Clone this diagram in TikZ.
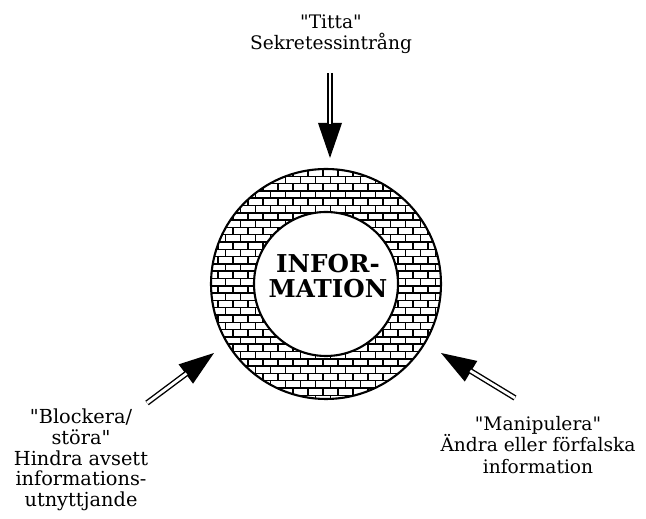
\documentclass[tikz,border=0pt]{standalone}
\usepackage{fontspec}
\setmainfont{DejaVu Serif}
\usetikzlibrary{arrows.meta, positioning}

\newcommand{\qt}{\textquotedbl}

\tikzset{
	wall/.style={line width=1.2pt},
	brick/.style={line width=0.9pt},
	threat/.style={line width=0.8pt, -{Triangle[length=20pt, width=13.5pt]}},
	threatshaft/.style={double, double distance=1.6pt, line width=0.8pt, shorten >=19.5pt},
	lbl/.style={align=center, inner sep=0pt, font=\fontsize{10.6}{12}\selectfont}
}

\begin{document}
\begin{tikzpicture}[x=0.02cm, y=-0.02cm]
	\useasboundingbox (0,0) rectangle (646,519);
	
	% brick wall round the information
	\begin{scope}[even odd rule]
		\clip (326,284) circle (115) (326,284) circle (72);
		\foreach \r in {0,...,31}
		{
			\pgfmathsetmacro{\yy}{169+7.3*\r}
			\pgfmathsetmacro{\xo}{203+7.5*mod(\r,2)}
			\draw[brick] (200,\yy) -- (452,\yy);
			\foreach \c in {0,...,17}
			\draw[brick] (\xo+15*\c,\yy) -- ++(0,7.3);
		}
	\end{scope}
	\draw[wall] (326,284) circle (115);
	\draw[wall] (326,284) circle (72);
	
	\node [align=center, inner sep=0pt, font=\fontsize{14}{14.7}\selectfont\bfseries] (info) at (328,276) {INFOR-\\MATION};
	
	\node [lbl] (titta) at (331,34) {\qt Titta\qt\\Sekretessintrång};
	\node [lbl, font=\fontsize{11}{11.8}\selectfont] (blockera) at (81,460) {\qt Blockera/\\störa\qt\\Hindra avsett\\informations-\\utnyttjande};
	\node [lbl] (manipulera) at (538,445) {\qt Manipulera\qt\\Ändra eller förfalska\\information};
	
	\coordinate (tittaTail) at (330,73);
	\coordinate (tittaTip) at (330,158);
	\coordinate (blockeraTail) at (147,403);
	\coordinate (blockeraTip) at (214,353);
	\coordinate (manipuleraTail) at (515,398);
	\coordinate (manipuleraTip) at (441,353);
	
	\foreach \a in {titta, blockera, manipulera}
	{
		\draw[threat] (\a Tail) -- (\a Tip);
		\draw[threatshaft] (\a Tail) -- (\a Tip);
	}
\end{tikzpicture}
\end{document}
